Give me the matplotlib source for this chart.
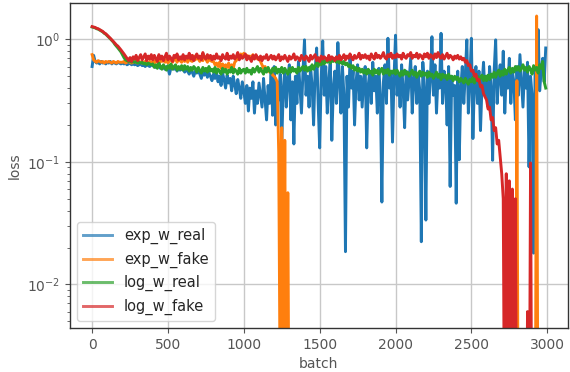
"""
Loss curves for the exp / log weighted discriminator runs
"""

import numpy as np
import matplotlib
matplotlib.use("Agg")
import matplotlib.pyplot as plt

below = 1e-4  # loss values that sit under the bottom of the log axis

batch = np.arange(0, 3000, 10)  # one reading every 10 batches

# Loss, one row = 200 batches
exp_w_real = [
    0.60, 0.74, 0.66, 0.64, 0.65, 0.63, 0.66, 0.64, 0.65, 0.63, 0.65, 0.64, 0.66, 0.63, 0.65, 0.64, 0.63, 0.65, 0.64, 0.63,
    0.64, 0.63, 0.64, 0.62, 0.63, 0.64, 0.62, 0.63, 0.62, 0.63, 0.61, 0.62, 0.63, 0.61, 0.62, 0.60, 0.62, 0.61, 0.60, 0.62,
    0.61, 0.60, 0.59, 0.61, 0.60, 0.58, 0.60, 0.59, 0.57, 0.60, 0.58, 0.52, 0.59, 0.58, 0.57, 0.59, 0.55, 0.58, 0.56, 0.57,
    0.57, 0.54, 0.56, 0.55, 0.52, 0.56, 0.54, 0.50, 0.55, 0.53, 0.56, 0.52, 0.48, 0.54, 0.51, 0.55, 0.49, 0.53, 0.50, 0.46,
    0.52, 0.48, 0.54, 0.45, 0.50, 0.42, 0.53, 0.47, 0.40, 0.51, 0.44, 0.48, 0.38, 0.50, 0.43, 0.36, 0.47, 0.40, 0.33, 0.45,
    0.38, 0.30, 0.42, 0.26, 0.40, 0.33, 0.45, 0.25, 0.38, 0.30, 0.44, 0.35, 0.28, 0.48, 0.32, 0.22, 0.42, 0.30, 0.55, 0.24,
    0.60, 0.20, 0.45, 0.32, 0.52, 0.14, 0.40, 0.55, 0.28, 0.48, 0.62, 0.22, 0.45, 0.14, 0.50, 0.30, 0.66, 0.40, 0.25, 0.55,
    0.99, 0.35, 0.50, 0.28, 0.60, 0.42, 0.20, 0.55, 0.85, 0.30, 0.13, 0.48, 0.97, 0.35, 0.60, 0.25, 0.45, 0.70, 0.15, 0.40,
    0.55, 0.30, 0.94, 0.45, 0.25, 0.60, 0.35, 0.0185, 0.50, 0.28, 0.70, 0.40, 0.55, 0.20, 0.45, 0.62, 0.32, 0.50, 0.28, 0.48,
    0.60, 0.13, 0.42, 0.55, 0.30, 0.65, 0.38, 0.50, 0.25, 0.58, 0.35, 0.047, 0.45, 0.62, 0.30, 1.02, 0.40, 0.55, 0.145, 0.48,
    1.08, 0.35, 0.50, 0.28, 0.62, 0.40, 0.19, 0.55, 0.32, 0.48, 0.70, 0.25, 0.45, 0.60, 0.30, 0.52, 0.38, 0.0223, 0.65, 0.40,
    0.0335, 0.55, 0.30, 0.48, 1.05, 0.35, 0.62, 0.25, 0.50, 0.40, 1.12, 0.30, 0.55, 0.45, 0.20, 0.60, 0.063, 0.50, 0.35, 0.42,
    0.046, 0.55, 0.104, 0.40, 0.60, 0.30, 0.52, 0.99, 0.25, 0.48, 1.02, 0.155, 0.45, 0.60, 0.30, 0.55, 0.18, 0.42, 0.65, 0.35,
    0.50, 0.28, 0.60, 0.40, 0.103, 0.55, 0.99, 0.30, 0.48, 0.62, 0.35, 0.80, 0.25, 0.52, 0.40, 0.70, 0.30, 0.55, 0.45, 0.22,
    0.60, 0.35, 0.75, 0.45, 0.28, 0.55, 0.40, 0.65, 0.091, 0.50, 0.35, 0.018, 0.60, 0.45, 1.20, 0.38, 0.55, 0.70, 0.45, 0.85,
]

exp_w_fake = [
    0.75, 0.68, 0.66, 0.65, 0.67, 0.66, 0.65, 0.66, 0.64, 0.66, 0.65, 0.66, 0.65, 0.64, 0.66, 0.65, 0.64, 0.66, 0.65, 0.65,
    0.65, 0.66, 0.64, 0.65, 0.66, 0.65, 0.64, 0.65, 0.66, 0.65, 0.64, 0.66, 0.65, 0.64, 0.65, 0.66, 0.65, 0.64, 0.66, 0.65,
    0.66, 0.64, 0.68, 0.65, 0.63, 0.68, 0.66, 0.69, 0.65, 0.68, 0.64, 0.67, 0.70, 0.65, 0.68, 0.70, 0.65, 0.69, 0.67, 0.65,
    0.69, 0.66, 0.71, 0.65, 0.72, 0.67, 0.66, 0.73, 0.68, 0.75, 0.69, 0.66, 0.72, 0.67, 0.73, 0.69, 0.65, 0.71, 0.67, 0.66,
    0.66, 0.62, 0.64, 0.60, 0.65, 0.58, 0.63, 0.56, 0.62, 0.59, 0.64, 0.57, 0.62, 0.58, 0.65, 0.67, 0.71, 0.72, 0.76, 0.73,
    0.77, 0.72, 0.74, 0.70, 0.73, 0.71, 0.75, 0.70, 0.72, 0.69, 0.71, 0.66, 0.62, 0.58, 0.60, 0.56, 0.58, 0.54, 0.55, 0.51,
    0.50, 0.48, 0.45, 0.12, 0.001, 0.19, 0.0008, 0.15, 0.0005, 0.056,
] + [below] * 150 + [0.46] + [below] * 12 + [1.55] + [below] * 6

log_w_real = [
    1.26, 1.25, 1.24, 1.22, 1.21, 1.19, 1.17, 1.15, 1.12, 1.10, 1.07, 1.04, 1.01, 0.98, 0.95, 0.91, 0.88, 0.85, 0.82, 0.79,
    0.75, 0.71, 0.68, 0.67, 0.66, 0.67, 0.65, 0.66, 0.65, 0.66, 0.64, 0.65, 0.64, 0.65, 0.63, 0.64, 0.62, 0.64, 0.63, 0.62,
    0.63, 0.59, 0.62, 0.58, 0.64, 0.60, 0.57, 0.62, 0.59, 0.56, 0.61, 0.58, 0.63, 0.57, 0.60, 0.62, 0.56, 0.60, 0.57, 0.61,
    0.56, 0.61, 0.57, 0.60, 0.55, 0.59, 0.56, 0.60, 0.58, 0.54, 0.59, 0.56, 0.53, 0.59, 0.55, 0.58, 0.54, 0.60, 0.55, 0.57,
    0.54, 0.59, 0.53, 0.57, 0.55, 0.52, 0.58, 0.54, 0.57, 0.52, 0.56, 0.54, 0.59, 0.53, 0.57, 0.55, 0.52, 0.58, 0.53, 0.56,
    0.57, 0.53, 0.58, 0.54, 0.56, 0.52, 0.58, 0.54, 0.57, 0.60, 0.54, 0.58, 0.55, 0.52, 0.58, 0.54, 0.59, 0.55, 0.53, 0.58,
    0.55, 0.59, 0.53, 0.57, 0.54, 0.59, 0.53, 0.58, 0.55, 0.52, 0.58, 0.54, 0.59, 0.55, 0.57, 0.53, 0.59, 0.55, 0.58, 0.60,
    0.56, 0.60, 0.55, 0.59, 0.56, 0.62, 0.57, 0.61, 0.64, 0.60, 0.66, 0.62, 0.67, 0.63, 0.68, 0.65, 0.70, 0.64, 0.68, 0.66,
    0.69, 0.65, 0.68, 0.64, 0.67, 0.63, 0.66, 0.62, 0.64, 0.60, 0.62, 0.58, 0.61, 0.56, 0.59, 0.55, 0.58, 0.54, 0.57, 0.53,
    0.56, 0.52, 0.57, 0.53, 0.55, 0.51, 0.57, 0.53, 0.56, 0.52, 0.55, 0.58, 0.52, 0.56, 0.53, 0.57, 0.51, 0.55, 0.53, 0.56,
    0.52, 0.56, 0.53, 0.50, 0.55, 0.51, 0.56, 0.52, 0.54, 0.50, 0.53, 0.56, 0.51, 0.54, 0.49, 0.53, 0.55, 0.50, 0.54, 0.51,
    0.53, 0.49, 0.54, 0.50, 0.52, 0.48, 0.51, 0.54, 0.49, 0.52, 0.47, 0.52, 0.49, 0.51, 0.47, 0.52, 0.48, 0.50, 0.46, 0.50,
    0.47, 0.49, 0.45, 0.48, 0.46, 0.44, 0.48, 0.45, 0.43, 0.47, 0.45, 0.49, 0.44, 0.47, 0.50, 0.45, 0.49, 0.51, 0.46, 0.50,
    0.46, 0.51, 0.47, 0.52, 0.49, 0.54, 0.49, 0.53, 0.56, 0.50, 0.55, 0.51, 0.57, 0.52, 0.56, 0.59, 0.53, 0.58, 0.54, 0.60,
    0.56, 0.60, 0.55, 0.58, 0.62, 0.56, 0.59, 0.54, 0.60, 0.57, 0.52, 0.61, 0.56, 0.59, 0.53, 0.62, 0.58, 0.66, 0.45, 0.40,
]

log_w_fake = [
    1.27, 1.26, 1.25, 1.23, 1.22, 1.20, 1.18, 1.16, 1.13, 1.11, 1.08, 1.05, 1.02, 0.99, 0.96, 0.93, 0.90, 0.88, 0.85, 0.82,
    0.79, 0.76, 0.73, 0.70, 0.67, 0.71, 0.66, 0.72, 0.69, 0.74, 0.67, 0.71, 0.75, 0.68, 0.72, 0.76, 0.67, 0.73, 0.69, 0.75,
    0.68, 0.74, 0.70, 0.66, 0.75, 0.69, 0.73, 0.67, 0.72, 0.77, 0.68, 0.73, 0.70, 0.66, 0.74, 0.71, 0.76, 0.68, 0.72, 0.69,
    0.75, 0.68, 0.73, 0.70, 0.77, 0.69, 0.74, 0.67, 0.72, 0.76, 0.70, 0.73, 0.68, 0.78, 0.71, 0.69, 0.75, 0.70, 0.74, 0.68,
    0.73, 0.69, 0.76, 0.70, 0.72, 0.67, 0.75, 0.71, 0.69, 0.77, 0.68, 0.73, 0.70, 0.75, 0.69, 0.72, 0.78, 0.68, 0.74, 0.70,
    0.72, 0.76, 0.68, 0.73, 0.70, 0.66, 0.74, 0.69, 0.75, 0.71, 0.68, 0.73, 0.67, 0.72, 0.70, 0.75, 0.68, 0.71, 0.74, 0.69,
    0.73, 0.68, 0.71, 0.75, 0.67, 0.72, 0.69, 0.74, 0.70, 0.66, 0.73, 0.69, 0.71, 0.76, 0.68, 0.72, 0.70, 0.67, 0.74, 0.70,
    0.68, 0.73, 0.70, 0.66, 0.74, 0.69, 0.72, 0.75, 0.67, 0.71, 0.66, 0.73, 0.69, 0.72, 0.70, 0.67, 0.74, 0.68, 0.72, 0.70,
    0.67, 0.72, 0.69, 0.74, 0.68, 0.71, 0.75, 0.68, 0.73, 0.70, 0.76, 0.71, 0.68, 0.74, 0.70, 0.72, 0.77, 0.69, 0.74, 0.71,
    0.75, 0.70, 0.73, 0.68, 0.76, 0.72, 0.69, 0.77, 0.71, 0.74, 0.70, 0.73, 0.78, 0.71, 0.69, 0.75, 0.72, 0.77, 0.70, 0.74,
    0.71, 0.76, 0.72, 0.74, 0.69, 0.77, 0.72, 0.70, 0.75, 0.73, 0.78, 0.70, 0.74, 0.72, 0.77, 0.70, 0.75, 0.73, 0.69, 0.76,
    0.72, 0.77, 0.70, 0.75, 0.73, 0.69, 0.76, 0.71, 0.78, 0.72, 0.70, 0.75, 0.69, 0.73, 0.77, 0.70, 0.74, 0.72, 0.68, 0.73,
    0.70, 0.74, 0.69, 0.72, 0.68, 0.70, 0.65, 0.67, 0.61, 0.62, 0.55, 0.56, 0.50, 0.52, 0.46, 0.47, 0.41, 0.42, 0.36, 0.34,
    0.32, 0.27, 0.28, 0.22, 0.23, 0.18, 0.19, 0.14, 0.15, 0.11, 0.08, 0.05, 0.0002, 0.08, below, 0.07, below, 0.06, below, 0.05,
] + [below] * 7 + [0.006, below, 0.098] + [below] * 10

names = ["exp_w_real", "exp_w_fake", "log_w_real", "log_w_fake"]
colors = ["#1f77b4", "#ff7f0e", "#2ca02c", "#d62728"]

fig = plt.figure(figsize=(5.7, 3.72), dpi=100)
ax = fig.add_axes([0.123, 0.118, 0.873, 0.874])

for name, vals, col in zip(names, [exp_w_real, exp_w_fake, log_w_real, log_w_fake], colors):
    ax.plot(batch, vals, color=col, lw=2.1, label=name)

ax.set_yscale("log")
ax.set_ylim(0.0044, 1.98)
ax.set_xlim(-145, 3135)
ax.set_xticks([0, 500, 1000, 1500, 2000, 2500, 3000])

ax.grid(True, which="major", color="#c8c8c8", lw=1)
ax.set_axisbelow(True)
ax.tick_params(which="both", direction="out", colors="#555555", labelsize=10)
for s in ax.spines.values():
    s.set_color("#333333")
    s.set_linewidth(1.0)

ax.set_xlabel("batch", color="#555555", fontsize=10)
ax.set_ylabel("loss", color="#555555", fontsize=10)

leg = ax.legend(loc="lower left", fontsize=10.5, framealpha=0.8)
leg.get_frame().set_edgecolor("#cccccc")
for h in leg.get_lines():
    h.set_alpha(0.7)
for t in leg.get_texts():
    t.set_color("#262626")

fig.savefig("out.png", dpi=100)
